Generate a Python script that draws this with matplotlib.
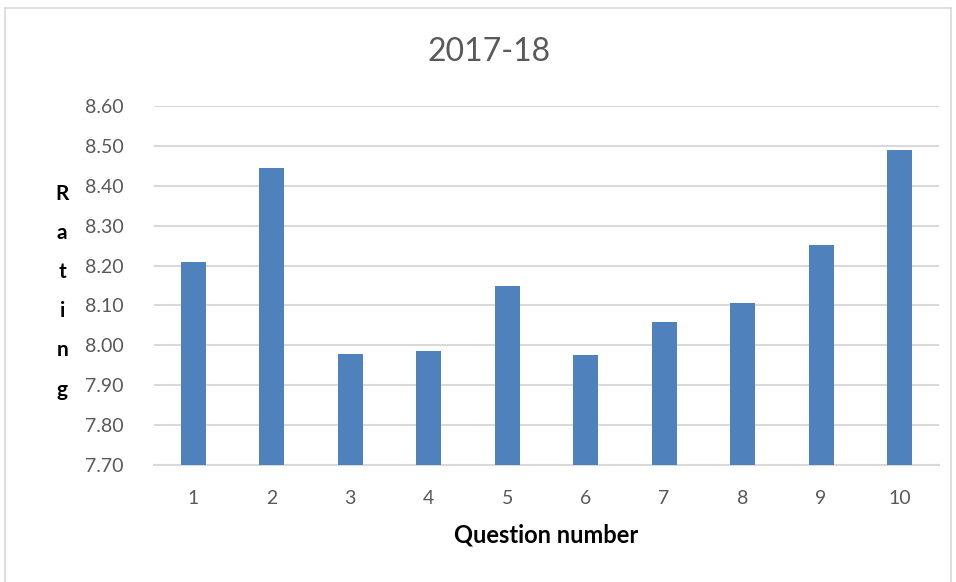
import matplotlib.pyplot as plt
from matplotlib.lines import Line2D

questions = [1, 2, 3, 4, 5, 6, 7, 8, 9, 10]
ratings = [8.208, 8.445, 7.979, 7.985, 8.148, 7.976, 8.058, 8.106, 8.251, 8.489]
y_ticks = [7.70, 7.80, 7.90, 8.00, 8.10, 8.20, 8.30, 8.40, 8.50, 8.60]

plt.rcParams["font.family"] = ["Lato", "DejaVu Sans"]

fig = plt.figure(figsize=(9.56, 5.82), dpi=100)
ax = fig.add_axes([0.161, 0.201, 0.821, 0.617])

ax.bar(questions, ratings, width=0.32, color="#4F81BD", zorder=3)

ax.set_xlim(0.5, 10.5)
ax.set_ylim(7.70, 8.60)
ax.set_yticks(y_ticks)
ax.set_yticklabels([f"{v:.2f}" for v in y_ticks])
ax.set_xticks(questions)
ax.set_xticklabels([str(q) for q in questions])
ax.tick_params(axis="both", length=0, labelsize=14, colors="#595959")
ax.tick_params(axis="y", pad=22)
ax.tick_params(axis="x", pad=18)

ax.yaxis.grid(True, color="#D9D9D9", linewidth=1.5, zorder=0)
for side in ["top", "right", "left"]:
    ax.spines[side].set_visible(False)
ax.spines["bottom"].set_color("#D9D9D9")
ax.spines["bottom"].set_linewidth(1.5)

fig.text(0.512, 0.911, "2017-18", fontsize=23, color="#595959",
         ha="center", va="center")
ax.set_xlabel("Question number", fontsize=17, fontweight="bold", labelpad=12)

fig.text(0.065, 0.499, "\n".join("Rating"), fontsize=15, fontweight="bold",
         ha="center", va="center", linespacing=2.2)

# light chart border
border = dict(color="#D9D9D9", linewidth=1.2, transform=fig.transFigure)
fig.add_artist(Line2D([0.005, 0.005], [0.0, 0.986], **border))
fig.add_artist(Line2D([0.005, 0.995], [0.986, 0.986], **border))
fig.add_artist(Line2D([0.995, 0.995], [0.0, 0.986], **border))

fig.savefig("out.png", dpi=100)
